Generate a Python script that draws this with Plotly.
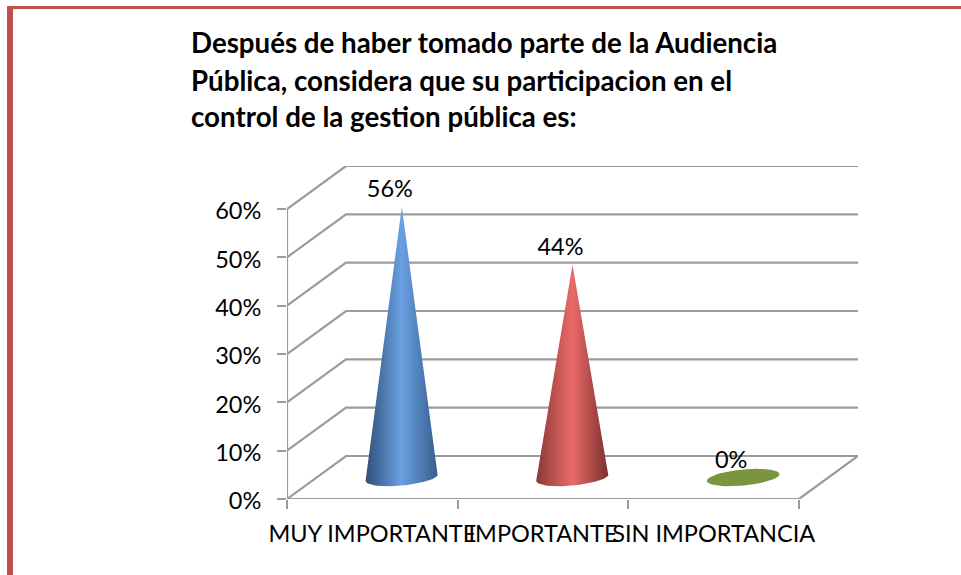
import math
import plotly.graph_objects as go

categories = ["MUY IMPORTANTE", "IMPORTANTE", "SIN IMPORTANCIA"]
values = [56, 44, 0]
y_ticks = [0, 10, 20, 30, 40, 50, 60]
title_lines = [
    "Después de haber tomado parte de la Audiencia",
    "Pública, considera que su participacion en el",
    "control de la gestion pública es:",
]
cone_scales = [
    [[0, "#2F5078"], [0.5, "#6AA0E2"], [1, "#365E8C"]],
    [[0, "#8A3836"], [0.5, "#EA6B69"], [1, "#7C302E"]],
]
ellipse_color = "#7B9440"
grid_color = "#9B9B9B"
border_color = "#C0504D"
text_font = "Lato"
title_size = 27.7
label_size = 23.5

W, H = 961, 575
L, R, T, B = 287, 858, 166, 499
px_per_cat = (799 - 287) / 3
px_per_pct = (B - 209) / 60
depth_x = (R - 799) / px_per_cat
depth_y = (499 - 456) / px_per_pct

fig = go.Figure()


def line(xs, ys, width=2.2):
    fig.add_trace(go.Scatter(x=xs, y=ys, mode="lines", cliponaxis=False, hoverinfo="skip",
                             showlegend=False, line=dict(color=grid_color, width=width)))


# walls and floor
for v in y_ticks:
    line([0, depth_x, 3 + depth_x], [v, v + depth_y, v + depth_y])
line([0, 0], [0, 60])
line([0, 3, 3 + depth_x], [0, 0, depth_y])


def ellipse_pts(cx, n=48, start=0.0, stop=2 * math.pi):
    a, b, tilt = 36.5, 8.0, math.radians(5.5)
    xs, ys = [], []
    for i in range(n + 1):
        t = start + (stop - start) * i / n
        px = a * math.cos(t) * math.cos(tilt) - b * math.sin(t) * math.sin(tilt)
        py = a * math.cos(t) * math.sin(tilt) + b * math.sin(t) * math.cos(tilt)
        xs.append(cx + px / px_per_cat)
        ys.append(depth_y / 2 + py / px_per_pct)
    return xs, ys


for i, v in enumerate(values):
    cx = i + 0.5 + depth_x / 2
    if v > 0:
        ex, ey = ellipse_pts(cx, start=-0.12, stop=-0.12 - math.pi)
        fig.add_trace(go.Scatter(
            x=[cx] + ex + [cx], y=[v + depth_y / 2] + ey + [v + depth_y / 2],
            mode="lines", fill="toself", cliponaxis=False, hoverinfo="skip", showlegend=False,
            line=dict(width=0, color="rgba(0,0,0,0)"),
            fillgradient=dict(type="horizontal", colorscale=cone_scales[i]),
        ))
    else:
        ex, ey = ellipse_pts(cx)
        fig.add_trace(go.Scatter(
            x=ex, y=ey, mode="lines", fill="toself", cliponaxis=False, hoverinfo="skip",
            showlegend=False, line=dict(width=0, color=ellipse_color), fillcolor=ellipse_color,
        ))

# data labels
fig.add_trace(go.Scatter(
    x=[i + 0.5 + depth_x / 2 - 12 / px_per_cat for i in range(3)],
    y=[v + depth_y / 2 + 4 / px_per_pct for v in values],
    mode="text", text=[f"{v}%" for v in values], textposition="top center",
    textfont=dict(family=text_font, size=label_size, color="#000000"),
    cliponaxis=False, hoverinfo="skip", showlegend=False,
))

annotations = [
    dict(text=t, xref="paper", yref="paper", x=(191 - L) / (R - L), xanchor="left", xshift=-2,
         y=(B - yc) / (B - T), yanchor="middle", showarrow=False, align="left",
         font=dict(family=text_font, size=title_size, color="#000000", weight="bold"))
    for t, yc in zip(title_lines[1:], [80, 116])
]

shapes = [
    dict(type="rect", xref="paper", yref="paper", layer="below", line=dict(width=0),
         fillcolor=border_color,
         x0=(7 - L) / (R - L), x1=(W - L) / (R - L), y0=(B - 6) / (B - T), y1=(B - 9) / (B - T)),
    dict(type="rect", xref="paper", yref="paper", layer="below", line=dict(width=0),
         fillcolor=border_color,
         x0=(7 - L) / (R - L), x1=(13 - L) / (R - L), y0=(B - 6) / (B - T), y1=(B - H) / (B - T)),
]

fig.update_layout(
    width=W, height=H, autosize=False,
    paper_bgcolor="white", plot_bgcolor="white",
    margin=dict(l=L, r=W - R, t=T, b=H - B, pad=0),
    showlegend=False,
    font=dict(family=text_font, size=label_size, color="#000000"),
    title=dict(text=title_lines[0], x=191 / W, xanchor="left", xref="container",
               y=1 - 43 / H, yanchor="middle", yref="container",
               font=dict(family=text_font, size=title_size, color="#000000", weight="bold")),
    annotations=annotations,
    shapes=shapes,
    xaxis=dict(range=[0, 3 + depth_x], showgrid=False, zeroline=False, showline=False,
               tickvals=[0.5, 1.5, 2.5], ticktext=categories, ticks="", tickangle=0,
               ticklabelstandoff=18,
               minor=dict(tickvals=[0, 1, 2, 3], ticks="outside", ticklen=9, tickwidth=2,
                          tickcolor=grid_color, showgrid=False),
               tickfont=dict(family=text_font, size=label_size)),
    yaxis=dict(range=[0, 60 + depth_y], showgrid=False, zeroline=False, showline=False,
               tickvals=y_ticks, ticktext=[f"{v}%" for v in y_ticks], ticks="outside",
               ticklen=9, tickwidth=2, tickcolor=grid_color, ticklabelstandoff=11,
               ticklabelshift=2,
               tickfont=dict(family=text_font, size=label_size)),
)

fig.write_html("out.html", config={"displayModeBar": False},
               post_script="document.body.style.margin='0';")
